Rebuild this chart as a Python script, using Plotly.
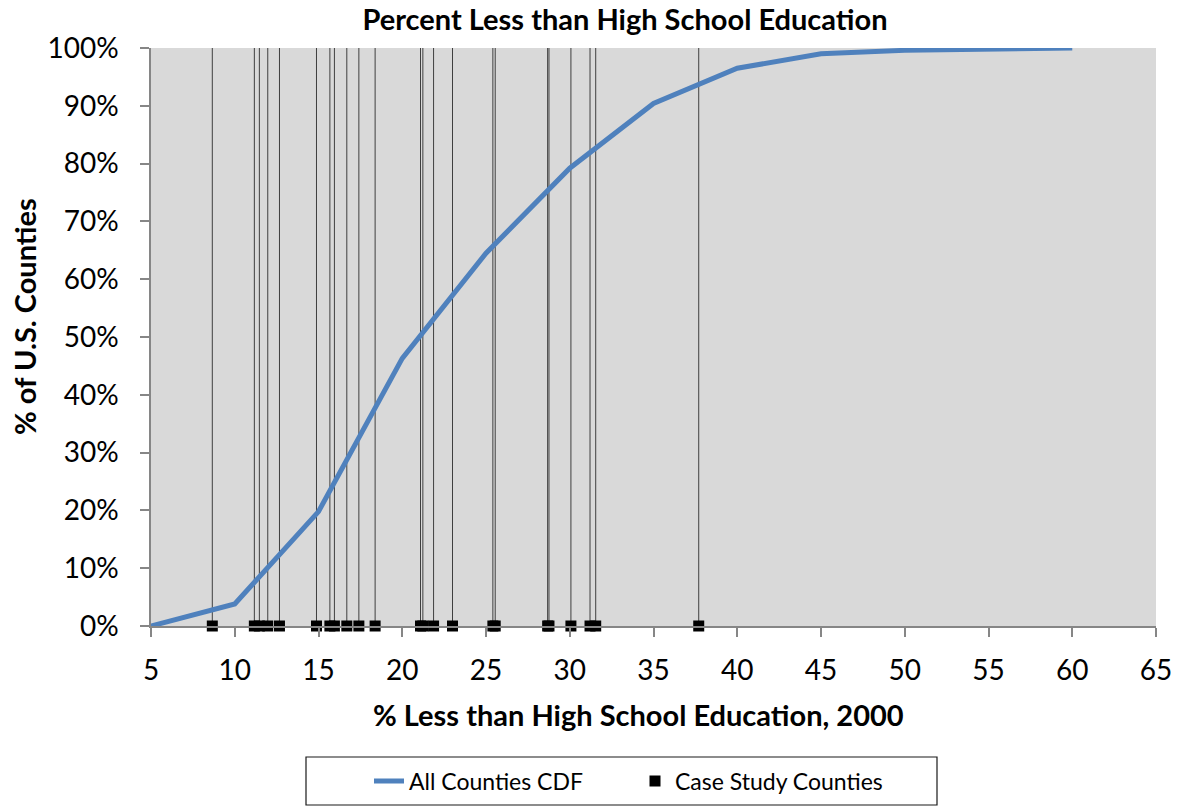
import plotly.graph_objects as go

# CDF of % of adults with less than high school education, US counties (2000)
cdf_x = [5, 10, 15, 20, 25, 30, 35, 40, 45, 50, 60]
cdf_y = [0.0, 0.038, 0.198, 0.463, 0.645, 0.792, 0.904, 0.965, 0.990, 0.996, 1.0]

# Case study counties (x values; drawn on the baseline with drop lines to 100%)
case_x = [8.66, 11.17, 11.47, 11.97, 12.67, 14.88, 15.68, 15.95, 16.69, 17.41,
          18.38, 21.09, 21.23, 21.87, 23.00, 25.41, 25.55, 28.68, 28.76, 30.07,
          31.21, 31.55, 37.70]
case_y = [0.0] * len(case_x)
line_top = 1.0

x_ticks = list(range(5, 66, 5))
y_ticks = [i / 10 for i in range(11)]

FONT = "Lato"
W, H = 1178, 806
L, R, T, B = 151, 22, 48, 180
PW, PH = W - L - R, H - T - B


def px_x(p):
    return (p - L) / PW


def px_y(p):
    return (H - B - p) / PH


# vertical drop lines, one per case study county
drop_x, drop_y = [], []
for v in case_x:
    drop_x += [v, v, None]
    drop_y += [0.0, line_top, None]

fig = go.Figure()

fig.add_trace(go.Scatter(
    x=drop_x, y=drop_y, mode="lines", showlegend=False, hoverinfo="skip",
    line=dict(color="#3f3f3f", width=1),
))

fig.add_trace(go.Scatter(
    x=cdf_x, y=cdf_y, mode="lines", name="All Counties CDF",
    line=dict(color="#4f81bd", width=5),
    cliponaxis=False, legendrank=1,
))

fig.add_trace(go.Scatter(
    x=case_x, y=case_y, mode="markers", name="Case Study Counties",
    marker=dict(symbol="square", size=11, color="black"),
    cliponaxis=False, legendrank=2,
))

axis_common = dict(
    showgrid=False, zeroline=False, showline=True, linecolor="#868686",
    linewidth=1.5, ticks="outside", ticklen=9, tickcolor="#868686",
    tickwidth=1.5, tickfont=dict(size=28), automargin=False,
)

fig.update_layout(
    width=W, height=H,
    margin=dict(l=L, r=R, t=T, b=B, autoexpand=False),
    paper_bgcolor="white", plot_bgcolor="#d9d9d9",
    font=dict(family=FONT, size=22, color="black"),
    title=dict(text="<b>Percent Less than High School Education</b>",
               x=625 / W, xanchor="center", xref="container",
               y=1 - 20 / H, yanchor="middle", yref="container",
               font=dict(size=29)),
    showlegend=True,
    legend=dict(orientation="h", xref="container", yref="container",
                x=369 / W, xanchor="left", y=1 - 781 / H, yanchor="middle",
                borderwidth=0, bgcolor="rgba(0,0,0,0)", font=dict(size=23),
                entrywidthmode="pixels", entrywidth=221),
    xaxis=dict(range=[5, 65], tickvals=x_ticks, ticklabelstandoff=10,
               **axis_common),
    yaxis=dict(range=[0, 1], tickvals=y_ticks, tickformat=".0%",
               ticklabelstandoff=16, **axis_common),
    shapes=[
        dict(type="rect", xref="paper", yref="paper",
             x0=px_x(306), x1=px_x(937), y0=px_y(805), y1=px_y(757),
             line=dict(color="#1a1a1a", width=1.2), fillcolor="white",
             layer="below"),
    ],
    annotations=[
        dict(text="<b>% Less than High School Education, 2000</b>",
             xref="paper", yref="paper", x=px_x(638), y=px_y(714),
             xanchor="center", yanchor="middle", showarrow=False,
             font=dict(size=29)),
        dict(text="<b>% of U.S. Counties</b>", textangle=-90,
             xref="paper", yref="paper", x=px_x(24), y=px_y(317),
             xanchor="center", yanchor="middle", showarrow=False,
             font=dict(size=29)),
    ],
)

fig.write_html("out.html")
